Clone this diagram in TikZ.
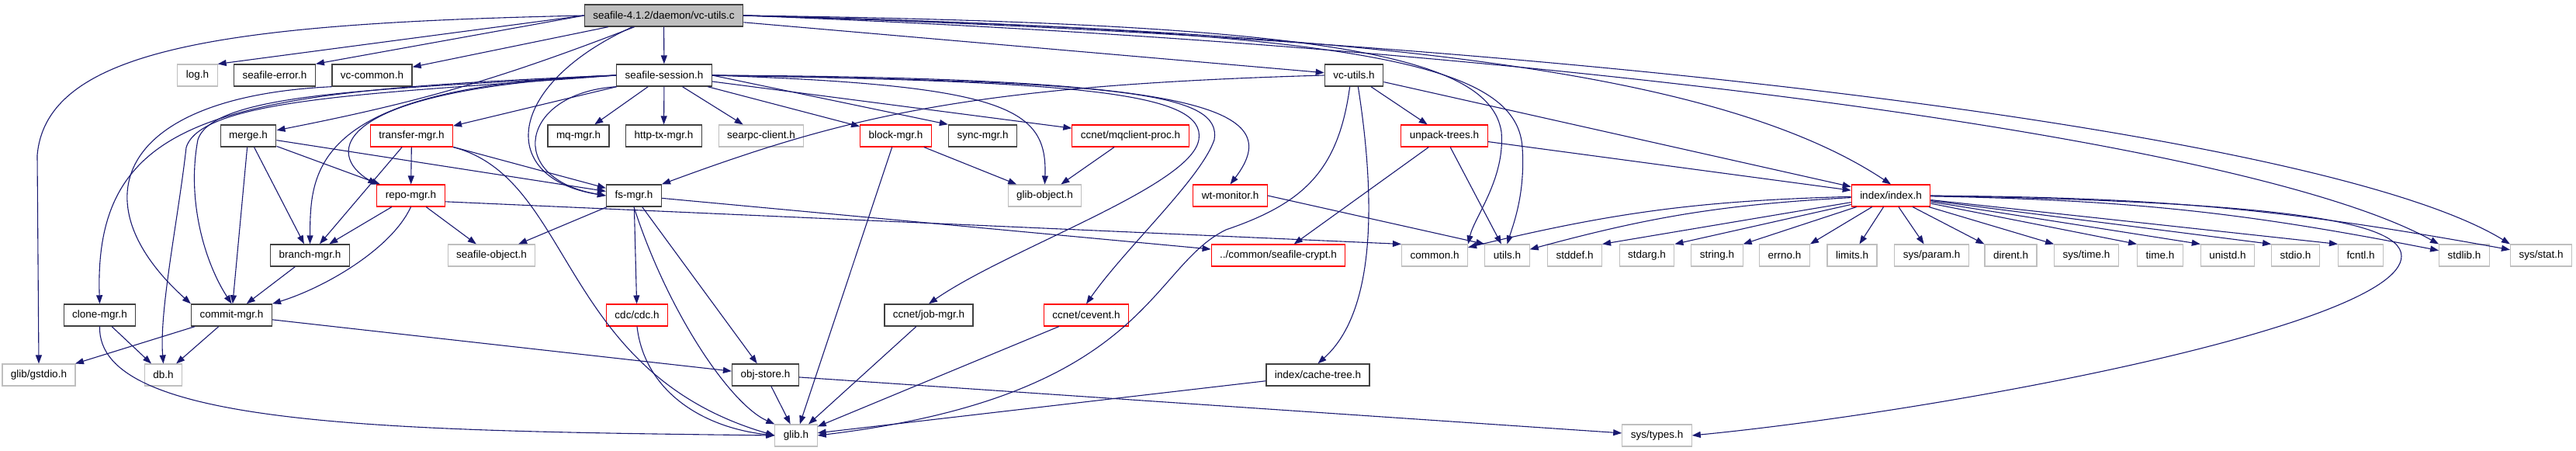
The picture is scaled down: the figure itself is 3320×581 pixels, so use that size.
\documentclass[tikz,border=0pt]{standalone}
\usepackage{fontspec}
\setmainfont{Liberation Sans}
\usetikzlibrary{arrows.meta}

\definecolor{edgeblue}{HTML}{191970}
\definecolor{docgray}{HTML}{404040}
\definecolor{extgray}{HTML}{BFBFBF}

\begin{document}
\begin{tikzpicture}[x=1pt, y=-1pt,
  hdr/.style={draw=docgray, line width=1.4pt, fill=white, inner xsep=11pt,
              inner ysep=0pt, minimum height=28pt, font=\fontsize{13.5}{16}\selectfont},
  trunc/.style={hdr, draw=red, line width=1.1pt},
  ext/.style={hdr, draw=extgray, line width=1.1pt},
  rootbox/.style={hdr, fill=extgray},
  arr/.style={-{Triangle[length=11pt,width=8pt]}, draw=edgeblue, line width=1.1pt}
]
  \useasboundingbox (0,0) rectangle (3320,581);

  \node[rootbox] (root) at (855.5,20) {seafile-4.1.2/daemon/vc-utils.c};

  \node[ext]   (log)      at (254.5,97)  {log.h};
  \node[hdr]   (seaerr)   at (354,97)    {seafile-error.h};
  \node[hdr]   (vccommon) at (479.5,97)  {vc-common.h};
  \node[hdr]   (session)  at (856,97)    {seafile-session.h};
  \node[hdr]   (vcutils)  at (1745,97)   {vc-utils.h};

  \node[hdr]   (merge)    at (320,175)   {merge.h};
  \node[trunc] (transfer) at (530.5,175) {transfer-mgr.h};
  \node[hdr]   (mqmgr)    at (745.5,175) {mq-mgr.h};
  \node[hdr]   (httptx)   at (855.5,175) {http-tx-mgr.h};
  \node[ext]   (searpc)   at (981,175)   {searpc-client.h};
  \node[trunc] (blockmgr) at (1154.5,175) {block-mgr.h};
  \node[hdr]   (syncmgr)  at (1266.5,175) {sync-mgr.h};
  \node[trunc] (mqclient) at (1457,175)  {ccnet/mqclient-proc.h};
  \node[trunc] (unpack)   at (1861.5,175) {unpack-trees.h};

  \node[trunc] (repomgr)  at (529.5,252) {repo-mgr.h};
  \node[hdr]   (fsmgr)    at (817,252)   {fs-mgr.h};
  \node[ext]   (globj)    at (1346.5,252) {glib-object.h};
  \node[trunc] (wtmon)    at (1585.5,252) {wt-monitor.h};
  \node[trunc] (index)    at (2437,252)  {index/index.h};

  \node[hdr]   (branch)   at (399.5,329) {branch-mgr.h};
  \node[ext]   (seaobj)   at (633.5,329) {seafile-object.h};
  \node[trunc] (crypt)    at (1647.5,329) {../common/seafile-crypt.h};
  \node[ext]   (common)   at (1849,329)  {common.h};
  \node[ext]   (utils)    at (1942.5,329) {utils.h};
  \node[ext]   (stddef)   at (2029.5,329) {stddef.h};
  \node[ext]   (stdarg)   at (2122.5,329) {stdarg.h};
  \node[ext]   (string)   at (2213,329)  {string.h};
  \node[ext]   (errno)    at (2300,329)  {errno.h};
  \node[ext]   (limits)   at (2387,329)  {limits.h};
  \node[ext]   (sysparam) at (2489.5,329) {sys/param.h};
  \node[ext]   (dirent)   at (2591.5,329) {dirent.h};
  \node[ext]   (systime)  at (2689,329)  {sys/time.h};
  \node[ext]   (time)     at (2784,329)  {time.h};
  \node[ext]   (unistd)   at (2871,329)  {unistd.h};
  \node[ext]   (stdio)    at (2958.5,329) {stdio.h};
  \node[ext]   (fcntl)    at (3042.5,329) {fcntl.h};
  \node[ext]   (stdlib)   at (3176,329)  {stdlib.h};
  \node[ext]   (sysstat)  at (3275,329)  {sys/stat.h};

  \node[hdr]   (clone)    at (128.5,406) {clone-mgr.h};
  \node[hdr]   (commit)   at (298.5,406) {commit-mgr.h};
  \node[trunc] (cdc)      at (821,406)   {cdc/cdc.h};
  \node[hdr]   (jobmgr)   at (1197,406)  {ccnet/job-mgr.h};
  \node[trunc] (cevent)   at (1400,406)  {ccnet/cevent.h};

  \node[ext]   (gstdio)   at (50,483)    {glib/gstdio.h};
  \node[ext]   (db)       at (210.5,483) {db.h};
  \node[hdr]   (objstore) at (986.5,483) {obj-store.h};
  \node[hdr]   (cachetree) at (1698.5,483) {index/cache-tree.h};

  \node[ext]   (glib)     at (1026,561)  {glib.h};
  \node[ext]   (systypes) at (2135.5,561) {sys/types.h};

  \draw[arr] (root.west) .. controls (300,30) and (60,60) .. (48,200) -- (gstdio.north);
  \draw[arr] (root.west) -- (log.north east);
  \draw[arr] (root.west) -- (seaerr.north east);
  \draw[arr] (root) -- (vccommon);
  \draw[arr] (root) to[bend left=5] (merge);
  \draw[arr] (root) -- (session);
  \draw[arr] (root.200) .. controls (650,110) and (640,230) .. (fsmgr.west);
  \draw[arr] (root) -- (vcutils);
  \draw[arr] (root.east) .. controls (1700,30) and (1920,70) .. (1935,170) .. controls (1940,230) and (1900,280) .. (common.north east);
  \draw[arr] (root.east) .. controls (1750,40) and (1955,80) .. (1962,190) .. controls (1966,250) and (1950,290) .. (utils.north);
  \draw[arr] (root.east) .. controls (1700,40) and (2200,80) .. (index.north);
  \draw[arr] (root.east) .. controls (2000,60) and (2900,180) .. (stdlib.north west);
  \draw[arr] (root.east) .. controls (2000,50) and (3000,170) .. (sysstat.north west);

  \draw[arr] (session.west) .. controls (300,118) and (120,140) .. (clone.north);
  \draw[arr] (session.west) .. controls (500,120) and (260,125) .. (240,190) .. controls (230,280) and (205,400) .. (db.north);
  \draw[arr] (session.west) .. controls (500,115) and (275,118) .. (255,180) .. controls (240,260) and (265,340) .. (commit.north);
  \draw[arr] (session.west) .. controls (400,110) and (400,220) .. (branch.north);
  \draw[arr] (session.west) .. controls (420,115) and (420,200) .. (repomgr.north west);
  \draw[arr] (session) -- (transfer);
  \draw[arr] (session) -- (mqmgr);
  \draw[arr] (session) -- (httptx);
  \draw[arr] (session) -- (searpc);
  \draw[arr] (session) -- (blockmgr);
  \draw[arr] (session.east) -- (syncmgr.north west);
  \draw[arr] (session) -- (mqclient);
  \draw[arr] (session.east) .. controls (1300,110) and (1350,140) .. (globj.north);
  \draw[arr] (session.east) .. controls (1400,105) and (1555,120) .. (1545,180) .. controls (1535,240) and (1300,320) .. (jobmgr.north);
  \draw[arr] (session.east) .. controls (1450,105) and (1575,120) .. (1565,180) .. controls (1548,230) and (1450,320) .. (cevent.north);
  \draw[arr] (session.east) .. controls (1550,100) and (1660,140) .. (wtmon.north);
  \draw[arr] (session.south west) .. controls (670,120) and (650,230) .. (fsmgr.west);

  \draw[arr] (vccommon.south west) .. controls (150,125) and (100,260) .. (commit.north west);

  \draw[arr] (merge) -- (repomgr);
  \draw[arr] (merge) -- (branch);
  \draw[arr] (merge) -- (commit);
  \draw[arr] (merge) -- (fsmgr);

  \draw[arr] (transfer) -- (repomgr);
  \draw[arr] (transfer) -- (branch);
  \draw[arr] (transfer) -- (fsmgr);
  \draw[arr] (transfer.south east) .. controls (740,230) and (720,480) .. (glib.west);

  \draw[arr] (repomgr) -- (branch);
  \draw[arr] (repomgr.south) .. controls (505,320) and (420,370) .. (commit.north east);
  \draw[arr] (repomgr) -- (seaobj);
  \draw[arr] (repomgr.350) -- (common.north west);

  \draw[arr] (fsmgr) -- (seaobj);
  \draw[arr] (fsmgr) -- (crypt);
  \draw[arr] (fsmgr) -- (cdc);
  \draw[arr] (fsmgr) -- (objstore);
  \draw[arr] (fsmgr.south) .. controls (860,400) and (940,520) .. (glib.north west);

  \draw[arr] (branch) -- (commit);
  \draw[arr] (commit) -- (gstdio);
  \draw[arr] (commit) -- (db);
  \draw[arr] (commit) -- (objstore);
  \draw[arr] (clone) -- (db);
  \draw[arr] (clone.south) .. controls (125,550) and (500,555) .. (glib.west);

  \draw[arr] (blockmgr) -- (globj);
  \draw[arr] (blockmgr) -- (glib);
  \draw[arr] (mqclient) -- (globj);
  \draw[arr] (cdc.south) .. controls (830,500) and (900,550) .. (glib.west);
  \draw[arr] (jobmgr) -- (glib);
  \draw[arr] (cevent) -- (glib);
  \draw[arr] (objstore) -- (glib);
  \draw[arr] (objstore) -- (systypes);
  \draw[arr] (cachetree) -- (glib);
  \draw[arr] (wtmon.east) -- (utils.north west);

  \draw[arr] (vcutils.west) .. controls (1250,110) and (1090,150) .. (fsmgr.north east);
  \draw[arr] (vcutils) -- (unpack);
  \draw[arr] (vcutils) -- (index);
  \draw[arr] (vcutils.290) .. controls (1772,250) and (1775,400) .. (cachetree.north);
  \draw[arr] (vcutils.250) .. controls (1725,220) and (1680,262) .. (1580,296) .. controls (1480,345) and (1480,510) .. (glib.east);

  \draw[arr] (unpack) -- (crypt);
  \draw[arr] (unpack) -- (utils);
  \draw[arr] (unpack) -- (index);

  \draw[arr] (index) to[bend right=6] (common);
  \draw[arr] (index) to[bend right=6] (utils);
  \draw[arr] (index) -- (stddef.north east);
  \draw[arr] (index) -- (stdarg.north east);
  \draw[arr] (index) -- (string.north east);
  \draw[arr] (index) -- (errno.north east);
  \draw[arr] (index) -- (limits);
  \draw[arr] (index) -- (sysparam);
  \draw[arr] (index) -- (dirent.north west);
  \draw[arr] (index) -- (systime.north west);
  \draw[arr] (index) -- (time.north west);
  \draw[arr] (index) -- (unistd.north west);
  \draw[arr] (index) -- (stdio.north west);
  \draw[arr] (index) -- (fcntl.north west);
  \draw[arr] (index) to[bend left=5] (stdlib);
  \draw[arr] (index) to[bend left=5] (sysstat);
  \draw[arr] (index.east) .. controls (2900,260) and (3095,280) .. (3095,330) .. controls (3095,420) and (2500,530) .. (systypes.east);
\end{tikzpicture}
\end{document}
